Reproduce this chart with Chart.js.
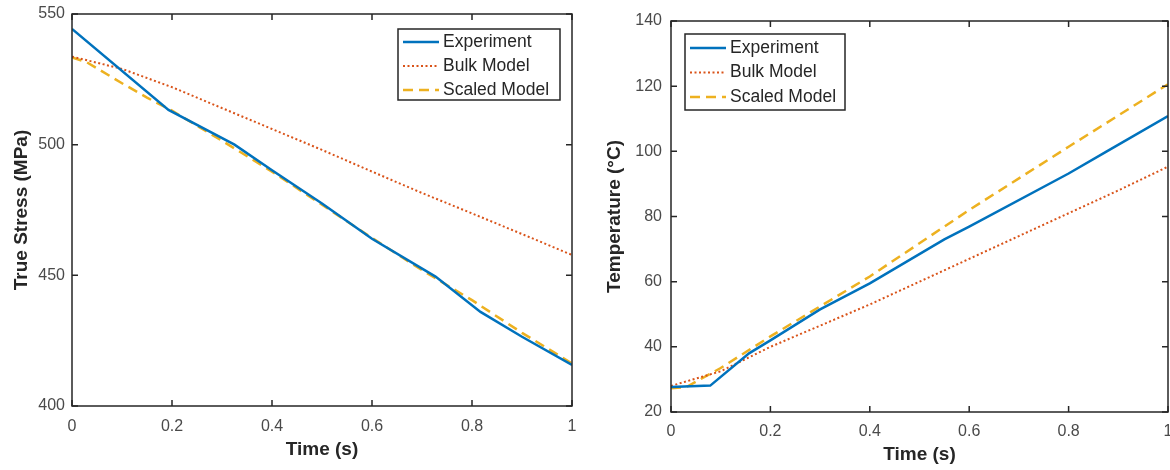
<!DOCTYPE html>
<html>
<head>
<meta charset="utf-8">
<script src="https://cdn.jsdelivr.net/npm/chart.js@4/dist/chart.umd.min.js"></script>
<style>
    html, body { margin: 0; padding: 0; background: #fff; overflow: hidden; }
    #wrap { position: relative; width: 1170px; height: 470px; }
    .panel { position: absolute; top: 0; }
</style>
</head>
<body>
<div id="wrap">
    <div class="panel" style="left:0"><canvas id="stressChart" width="585" height="470"></canvas></div>
    <div class="panel" style="left:585px"><canvas id="tempChart" width="595" height="470"></canvas></div>
</div>
<script>
'use strict';

// --- data ---
const seriesNames = ['Experiment', 'Bulk Model', 'Scaled Model'];

// left panel: true stress (MPa) vs time (s)
const expStressTime = [0, 0.193, 0.325, 0.4, 0.5, 0.6, 0.727, 0.817, 0.9, 1];
const expStress = [544.3, 513.3, 500, 490.2, 477.5, 464, 449.5, 436, 426.5, 415.7];
const bulkStressTime = [0, 0.1, 0.2, 0.3, 0.4, 0.5, 0.6, 0.7, 0.8, 0.9, 1];
const bulkStress = [533.7, 529, 522, 514, 506, 498, 489.7, 481.5, 473.7, 465.8, 457.8];
const scaledStressTime = [0, 0.03, 0.1, 0.15, 0.2, 0.3, 0.4, 0.5, 0.6, 0.7, 0.8, 0.9, 1];
const scaledStress = [533.4, 531.5, 523.5, 518, 513, 501.5, 489.7, 477, 464.3, 452, 440.5, 428, 416.3];

// right panel: temperature (°C) vs time (s)
const expTempTime = [0, 0.079, 0.157, 0.2, 0.3, 0.4, 0.55, 0.6, 0.8, 0.876, 1];
const expTemp = [27.7, 28.1, 38, 42, 51.5, 59.5, 73, 76.9, 93.2, 99.9, 110.8];
const bulkTempTime = [0, 0.1, 0.2, 0.3, 0.4, 0.5, 0.6, 0.7, 0.8, 0.9, 1];
const bulkTemp = [28, 32.5, 40, 46.5, 53, 60, 67, 74, 81, 88, 95.3];
const scaledTempTime = [0, 0.03, 0.1, 0.2, 0.4, 0.6, 0.8, 1];
const scaledTemp = [27.3, 27.6, 33.5, 43.2, 61.6, 82, 101.4, 120.6];

const timeTicks = [0, 0.2, 0.4, 0.6, 0.8, 1];

const AXIS_COLOR = '#262626';
const TICK_COLOR = '#4a4a4a';
const FONT = '"Liberation Sans", Arial, sans-serif';

function toPoints(xs, ys) {
    return xs.map((x, i) => ({x: x, y: ys[i]}));
}

function makeDatasets(t1, v1, t2, v2, t3, v3) {
    return [{
        label: seriesNames[0],
        data: toPoints(t1, v1),
        borderColor: '#0072BD',
        borderWidth: 2.5
    }, {
        label: seriesNames[1],
        data: toPoints(t2, v2),
        borderColor: '#D95319',
        borderWidth: 2,
        borderDash: [2, 2.5]
    }, {
        label: seriesNames[2],
        data: toPoints(t3, v3),
        borderColor: '#EDB120',
        borderWidth: 2.5,
        borderDash: [10, 6]
    }];
}

// box outline on all four sides with matlab style inward ticks
const boxTicks = {
    id: 'boxTicks',
    afterDraw(chart) {
        const {ctx, chartArea: a, scales} = chart;
        const len = 6;
        ctx.save();
        ctx.strokeStyle = AXIS_COLOR;
        ctx.lineWidth = 1.5;
        ctx.strokeRect(a.left, a.top, a.right - a.left, a.bottom - a.top);
        ctx.beginPath();
        scales.x.ticks.forEach(t => {
            const px = scales.x.getPixelForValue(t.value);
            ctx.moveTo(px, a.bottom); ctx.lineTo(px, a.bottom - len);
            ctx.moveTo(px, a.top); ctx.lineTo(px, a.top + len);
        });
        scales.y.ticks.forEach(t => {
            const py = scales.y.getPixelForValue(t.value);
            ctx.moveTo(a.left, py); ctx.lineTo(a.left + len, py);
            ctx.moveTo(a.right, py); ctx.lineTo(a.right - len, py);
        });
        ctx.stroke();
        ctx.restore();
    }
};

// legend box drawn inside the axes
const insideLegend = {
    id: 'insideLegend',
    afterDraw(chart, args, opts) {
        const {ctx} = chart;
        const b = opts.box;
        ctx.save();
        ctx.fillStyle = '#fff';
        ctx.fillRect(b.left, b.top, b.width, b.height);
        ctx.strokeStyle = AXIS_COLOR;
        ctx.lineWidth = 1.5;
        ctx.strokeRect(b.left, b.top, b.width, b.height);
        ctx.font = '17.5px ' + FONT;
        ctx.textBaseline = 'middle';
        chart.data.datasets.forEach((ds, i) => {
            const y = b.top + opts.firstRow + i * opts.rowGap;
            ctx.strokeStyle = ds.borderColor;
            ctx.lineWidth = ds.borderWidth;
            ctx.setLineDash(ds.borderDash || []);
            ctx.beginPath();
            ctx.moveTo(b.left + 5, y);
            ctx.lineTo(b.left + 41, y);
            ctx.stroke();
            ctx.setLineDash([]);
            ctx.fillStyle = AXIS_COLOR;
            ctx.fillText(ds.label, b.left + 45, y);
        });
        ctx.restore();
    }
};

function makeChart(canvasId, cfg) {
    return new Chart(document.getElementById(canvasId), {
        type: 'line',
        data: {datasets: cfg.datasets},
        options: {
            responsive: false,
            animation: false,
            events: [],
            elements: {
                point: {radius: 0, hoverRadius: 0},
                line: {tension: 0, fill: false, borderCapStyle: 'butt'}
            },
            layout: {padding: {left: 0, top: cfg.area.top, right: cfg.canvasW - cfg.area.right, bottom: 0}},
            plugins: {
                legend: {display: false},
                tooltip: {enabled: false},
                insideLegend: cfg.legend
            },
            scales: {
                x: {
                    type: 'linear',
                    min: 0,
                    max: 1,
                    afterBuildTicks: s => { s.ticks = timeTicks.map(v => ({value: v})); },
                    afterFit: s => { s.height = 470 - cfg.area.bottom; },
                    // hidden tick marks only push the labels away from the axis
                    grid: {display: false, drawTicks: true, tickLength: cfg.xTickGap},
                    border: {display: false},
                    ticks: {
                        color: TICK_COLOR,
                        font: {family: FONT, size: 16},
                        padding: 3,
                        maxRotation: 0,
                        callback: v => String(v)
                    },
                    title: {
                        display: true,
                        text: 'Time (s)',
                        color: AXIS_COLOR,
                        font: {family: FONT, size: 19, weight: 'bold'},
                        padding: {top: 0, bottom: cfg.xTitlePad}
                    }
                },
                y: {
                    min: cfg.yMin,
                    max: cfg.yMax,
                    ticks: {
                        stepSize: cfg.yStep,
                        color: TICK_COLOR,
                        font: {family: FONT, size: 16},
                        padding: 2
                    },
                    afterFit: s => { s.width = cfg.area.left; },
                    grid: {display: false, drawTicks: true, tickLength: cfg.yTickGap},
                    border: {display: false},
                    title: {
                        display: true,
                        text: cfg.yTitle,
                        color: AXIS_COLOR,
                        font: {family: FONT, size: 19, weight: 'bold'},
                        padding: {top: cfg.yTitlePad, bottom: 0}
                    }
                }
            }
        },
        plugins: [boxTicks, insideLegend]
    });
}

makeChart('stressChart', {
    datasets: makeDatasets(expStressTime, expStress, bulkStressTime, bulkStress, scaledStressTime, scaledStress),
    canvasW: 585,
    area: {left: 72, right: 572, top: 14, bottom: 406},
    yMin: 400, yMax: 550, yStep: 50,
    yTitle: 'True Stress (MPa)',
    yTitlePad: 10,
    xTitlePad: 9,
    xTickGap: 8,
    yTickGap: 5,
    legend: {box: {left: 398, top: 29, width: 162, height: 71}, firstRow: 13, rowGap: 24}
});

makeChart('tempChart', {
    datasets: makeDatasets(expTempTime, expTemp, bulkTempTime, bulkTemp, scaledTempTime, scaledTemp),
    canvasW: 595,
    area: {left: 86, right: 583, top: 21, bottom: 412},
    yMin: 20, yMax: 140, yStep: 20,
    yTitle: 'Temperature (°C)',
    yTitlePad: 18,
    xTitlePad: 4,
    xTickGap: 7,
    yTickGap: 7,
    legend: {box: {left: 100, top: 34, width: 160, height: 76}, firstRow: 14, rowGap: 24.5}
});
</script>
</body>
</html>
